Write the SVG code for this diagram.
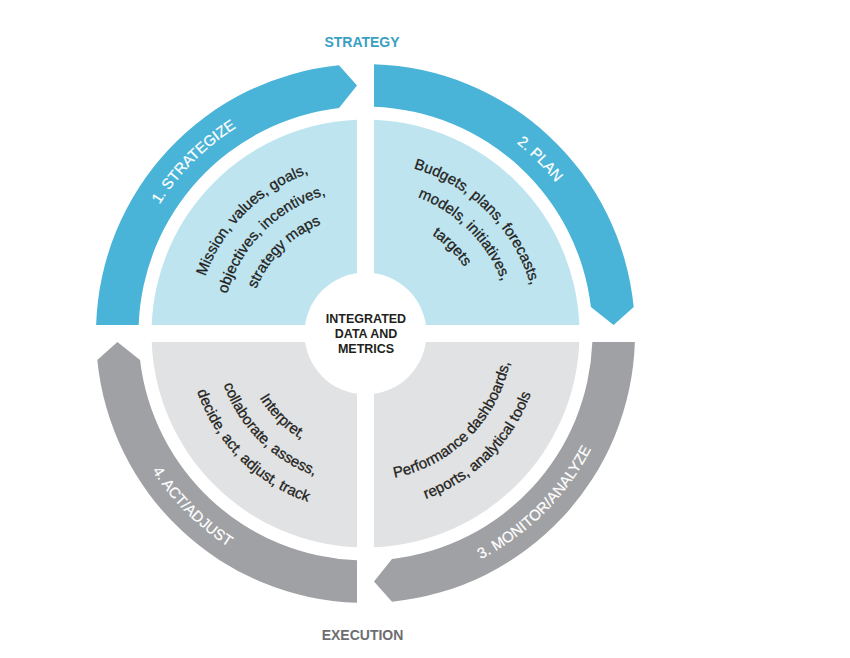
<svg xmlns="http://www.w3.org/2000/svg" width="850" height="658" viewBox="0 0 850 658">
  <style>
    .ringS { fill: #49B4D7; }
    .ringE { fill: #A0A1A4; }
    .wedgeS { fill: #BEE4F0; }
    .wedgeE { fill: #E1E2E3; }
    .lbl { font-family: "Liberation Sans", Arial, sans-serif; font-size: 15px; fill: #FFFFFF; stroke: #FFFFFF; stroke-width: 0.2px; }
    .body { font-family: "Liberation Sans", Arial, sans-serif; font-size: 15px; fill: #231F20; stroke: #231F20; stroke-width: 0.3px; }
    .ctr { font-family: "Liberation Sans", Arial, sans-serif; font-size: 12.5px; font-weight: bold; fill: #231F20; text-anchor: middle; }
    .head { font-family: "Liberation Sans", Arial, sans-serif; font-size: 14px; font-weight: bold; text-anchor: middle; }
  </style>
  <defs>
    <path id="pR1" d="M 166.45 472.88 A 243 243 0 0 1 504.88 134.45"/>
    <path id="pR2" d="M 226.12 134.45 A 243 243 0 0 1 564.55 472.88"/>
    <path id="pR3" d="M 220.10 541.16 A 253.5 253.5 0 0 0 573.16 188.10"/>
    <path id="pR4" d="M 157.84 188.10 A 253.5 253.5 0 0 0 510.90 541.16"/>
    <path id="pW1a" d="M 226.24 431.01 A 170 170 0 0 1 463.01 194.24"/>
    <path id="pW1b" d="M 247.54 416.10 A 144 144 0 0 1 448.10 215.54"/>
    <path id="pW1c" d="M 268.84 401.18 A 118 118 0 0 1 433.18 236.84"/>
    <path id="pW2a" d="M 266.84 192.61 A 172 172 0 0 1 506.39 432.16"/>
    <path id="pW2b" d="M 281.76 213.90 A 146 146 0 0 1 485.10 417.24"/>
    <path id="pW2c" d="M 297.24 236.02 A 119 119 0 0 1 462.98 401.76"/>
    <path id="pW3a" d="M 281.18 453.92 A 147 147 0 0 0 485.92 249.18"/>
    <path id="pW3b" d="M 264.55 477.67 A 176 176 0 0 0 509.67 232.55"/>
    <path id="pW4a" d="M 263.93 262.38 A 124 124 0 0 0 436.62 435.07"/>
    <path id="pW4b" d="M 241.81 246.89 A 151 151 0 0 0 452.11 457.19"/>
    <path id="pW4c" d="M 219.69 231.40 A 178 178 0 0 0 467.60 479.31"/>
  </defs>
  <rect width="850" height="658" fill="#FFFFFF"/>

  <text id="strategy-label" class="head" x="362" y="46.5" fill="#3A9FC2">STRATEGY</text>
  <text id="execution-label" class="head" x="362.5" y="640" fill="#6D6E71">EXECUTION</text>

  <g id="connectors">
    <g id="phase-1-strategize">
      <path class="ringS" d="M 96.13 325 A 269.5 269.5 0 0 1 339 65.3 L 357 85.4 L 339 108.05 A 227 227 0 0 0 138.66 325 Z"/>
      <text class="lbl"><textPath href="#pR1" startOffset="50%" text-anchor="middle">1. STRATEGIZE</textPath></text>
    </g>
    <g id="phase-2-plan">
      <path class="ringS" d="M 374 64.13 A 269.5 269.5 0 0 1 633.7 307 L 613.6 325 L 590.9 307 A 227 227 0 0 0 374 106.66 Z"/>
      <text class="lbl"><textPath href="#pR2" startOffset="50%" text-anchor="middle">2. PLAN</textPath></text>
    </g>
    <g id="phase-3-monitor">
      <path class="ringE" d="M 634.87 342 A 269.5 269.5 0 0 1 392 601.7 L 374 581.6 L 392 558.95 A 227 227 0 0 0 592.34 342 Z"/>
      <text class="lbl"><textPath href="#pR3" startOffset="50%" text-anchor="middle">3. MONITOR/ANALYZE</textPath></text>
    </g>
    <g id="phase-4-act">
      <path class="ringE" d="M 357 602.87 A 269.5 269.5 0 0 1 97.3 360 L 117.4 342 L 140.05 360 A 227 227 0 0 0 357 560.34 Z"/>
      <text class="lbl"><textPath href="#pR4" startOffset="50%" text-anchor="middle">4. ACT/ADJUST</textPath></text>
    </g>
  </g>

  <g id="wedge-strategize">
    <path class="wedgeS" d="M 357 325 L 151.67 325 A 214 214 0 0 1 357 119.67 Z"/>
    <text class="body"><textPath href="#pW1a" startOffset="50%" text-anchor="middle">Mission, values, goals,</textPath></text>
    <text class="body"><textPath href="#pW1b" startOffset="50%" text-anchor="middle">objectives, incentives,</textPath></text>
    <text class="body"><textPath href="#pW1c" startOffset="50%" text-anchor="middle">strategy maps</textPath></text>
  </g>
  <g id="wedge-plan">
    <path class="wedgeS" d="M 374 325 L 374 119.67 A 214 214 0 0 1 579.33 325 Z"/>
    <text class="body"><textPath href="#pW2a" startOffset="50%" text-anchor="middle">Budgets, plans, forecasts,</textPath></text>
    <text class="body"><textPath href="#pW2b" startOffset="50%" text-anchor="middle">models, initiatives,</textPath></text>
    <text class="body"><textPath href="#pW2c" startOffset="50%" text-anchor="middle">targets</textPath></text>
  </g>
  <g id="wedge-monitor">
    <path class="wedgeE" d="M 374 342 L 579.33 342 A 214 214 0 0 1 374 547.33 Z"/>
    <text class="body"><textPath href="#pW3a" startOffset="50%" text-anchor="middle">Performance dashboards,</textPath></text>
    <text class="body"><textPath href="#pW3b" startOffset="50%" text-anchor="middle">reports, analytical tools</textPath></text>
  </g>
  <g id="wedge-act">
    <path class="wedgeE" d="M 357 342 L 357 547.33 A 214 214 0 0 1 151.67 342 Z"/>
    <text class="body"><textPath href="#pW4a" startOffset="50%" text-anchor="middle">Interpret,</textPath></text>
    <text class="body"><textPath href="#pW4b" startOffset="50%" text-anchor="middle">collaborate, assess,</textPath></text>
    <text class="body"><textPath href="#pW4c" startOffset="50%" text-anchor="middle">decide, act, adjust, track</textPath></text>
  </g>

  <g id="center-hub">
    <circle cx="365.5" cy="333.5" r="61" fill="#FFFFFF"/>
    <text class="ctr" x="366" y="323">INTEGRATED</text>
    <text class="ctr" x="366" y="338">DATA AND</text>
    <text class="ctr" x="366" y="353">METRICS</text>
  </g>
</svg>
